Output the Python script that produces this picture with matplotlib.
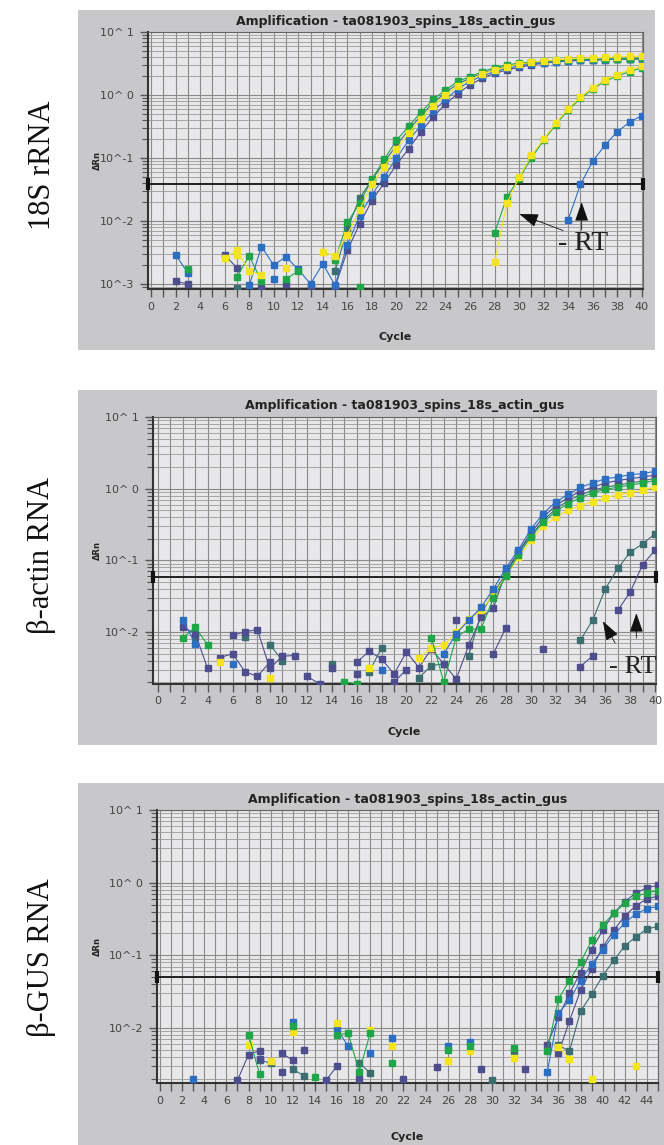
import numpy as np
import matplotlib
matplotlib.use("Agg")
import matplotlib.pyplot as plt
from matplotlib.patches import Rectangle
from matplotlib.ticker import LogLocator, NullFormatter

W, H = 664, 1145

# ---------------- data (cycle: delta Rn) ----------------
# 18S rRNA
s18_green = {3: 0.0017, 7: 0.0013, 8: 0.0028, 9: 0.0011, 11: 0.0012, 12: 0.0016,
             15: 0.0024, 16: 0.0095, 17: 0.019, 18: 0.046, 19: 0.095, 20: 0.19, 21: 0.32,
             22: 0.53, 23: 0.85, 24: 1.2, 25: 1.65, 26: 1.95, 27: 2.35, 28: 2.7, 29: 3.0,
             30: 3.2, 31: 3.35, 32: 3.45, 33: 3.55, 34: 3.6, 35: 3.7, 36: 3.7, 37: 3.7,
             38: 3.75, 39: 3.75, 40: 3.85}
s18_yellow = {6: 0.0026, 7: 0.0034, 8: 0.0016, 9: 0.0014, 11: 0.0018, 14: 0.0032,
              15: 0.0028, 16: 0.006, 17: 0.015, 18: 0.038, 19: 0.072, 20: 0.14, 21: 0.25,
              22: 0.42, 23: 0.68, 24: 1.0, 25: 1.4, 26: 1.75, 27: 2.15, 28: 2.5, 29: 2.8,
              30: 3.1, 31: 3.3, 32: 3.5, 33: 3.6, 34: 3.75, 35: 3.85, 36: 3.9, 37: 3.95,
              38: 4.0, 39: 4.1, 40: 4.1}
s18_blue = {2: 0.0029, 3: 0.0015, 8: 0.00095, 9: 0.0039, 10: 0.002, 11: 0.0027, 12: 0.0017,
            13: 0.001, 14: 0.0021, 15: 0.00095, 16: 0.0042, 17: 0.012, 18: 0.026, 19: 0.05,
            20: 0.1, 21: 0.19, 22: 0.33, 23: 0.55, 24: 0.85, 25: 1.25, 26: 1.65, 27: 2.0,
            28: 2.35, 29: 2.65, 30: 2.9, 31: 3.1, 32: 3.25, 33: 3.35, 34: 3.45, 35: 3.55,
            36: 3.6, 37: 3.65, 38: 3.7, 39: 3.7, 40: 3.75}
s18_purple = {2: 0.0011, 3: 0.001, 6: 0.0029, 7: 0.0018, 9: 0.00085, 11: 0.001, 13: 0.00085,
              15: 0.0009, 16: 0.0034, 17: 0.009, 18: 0.021, 19: 0.04, 20: 0.078, 21: 0.14,
              22: 0.26, 23: 0.45, 24: 0.72, 25: 1.05, 26: 1.45, 27: 1.85, 28: 2.2, 29: 2.5,
              30: 2.75, 31: 3.0, 32: 3.2, 33: 3.35, 34: 3.5, 35: 3.55, 36: 3.6, 37: 3.65,
              38: 3.7, 39: 3.7, 40: 3.8}
s18_teal = {7: 0.00085, 15: 0.0016, 16: 0.0075, 17: 0.023, 18: 0.045, 19: 0.085, 20: 0.16,
            21: 0.28, 22: 0.47, 23: 0.75, 24: 1.1, 25: 1.5, 26: 1.85, 27: 2.2, 28: 2.55,
            29: 2.85, 30: 3.05, 31: 3.25, 32: 3.4, 33: 3.5, 34: 3.55, 35: 3.6, 36: 3.65,
            37: 3.7, 38: 3.7, 39: 3.7, 40: 3.8}
s18_green_rt = {17: 0.0009, 28: 0.0064, 29: 0.024, 30: 0.047, 31: 0.1, 32: 0.19, 33: 0.34,
                34: 0.58, 35: 0.88, 36: 1.25, 37: 1.65, 38: 2.0, 39: 2.35, 40: 2.7}
s18_yellow_rt = {7: 0.0029, 28: 0.0022, 29: 0.019, 30: 0.049, 31: 0.11, 32: 0.2, 33: 0.36,
                 34: 0.61, 35: 0.93, 36: 1.3, 37: 1.74, 38: 2.1, 39: 2.5, 40: 2.85}
s18_blue_rt = {10: 0.0012, 34: 0.0105, 35: 0.038, 36: 0.089, 37: 0.16, 38: 0.26, 39: 0.37,
               40: 0.47}
s18_threshold = 0.039

# beta-actin RNA
act_blue = {2: 0.0145, 3: 0.0069, 6: 0.0036, 18: 0.003, 23: 0.0049, 24: 0.0095, 25: 0.0145,
            26: 0.022, 27: 0.04, 28: 0.078, 29: 0.14, 30: 0.27, 31: 0.45, 32: 0.65, 33: 0.83,
            34: 1.05, 35: 1.2, 36: 1.38, 37: 1.45, 38: 1.57, 39: 1.62, 40: 1.75}
act_purple = {2: 0.0117, 3: 0.0095, 4: 0.0031, 6: 0.009, 7: 0.0101, 8: 0.0108, 9: 0.0031,
              10: 0.0046, 11: 0.0047, 14: 0.0031, 16: 0.0038, 17: 0.0054, 18: 0.0042,
              19: 0.0026, 20: 0.0053, 21: 0.0032, 22: 0.0058, 23: 0.0036, 24: 0.0022,
              25: 0.0065, 26: 0.016, 27: 0.0217, 28: 0.07, 29: 0.13, 30: 0.24, 31: 0.4,
              32: 0.58, 33: 0.75, 34: 0.92, 35: 1.05, 36: 1.2, 37: 1.3, 38: 1.38, 39: 1.45,
              40: 1.55}
act_purple2 = {5: 0.0044, 6: 0.005, 7: 0.0028, 8: 0.0024, 9: 0.0038, 12: 0.0024, 13: 0.0019,
               16: 0.0026, 19: 0.002, 20: 0.003, 24: 0.0145, 27: 0.005, 28: 0.0115, 31: 0.0058}
act_teal = {3: 0.0086, 7: 0.0084, 9: 0.0067, 10: 0.004, 14: 0.0036, 17: 0.0028, 18: 0.006,
            21: 0.0023, 22: 0.0034, 23: 0.0036, 25: 0.0047, 26: 0.018, 27: 0.035, 28: 0.065,
            29: 0.13, 30: 0.22, 31: 0.36, 32: 0.52, 33: 0.68, 34: 0.82, 35: 0.95, 36: 1.05,
            37: 1.12, 38: 1.2, 39: 1.28, 40: 1.4}
act_green = {2: 0.0083, 3: 0.0117, 4: 0.0066, 15: 0.002, 16: 0.0019, 22: 0.0083, 23: 0.002,
             24: 0.0085, 25: 0.011, 26: 0.011, 27: 0.03, 28: 0.06, 29: 0.12, 30: 0.21,
             31: 0.34, 32: 0.48, 33: 0.62, 34: 0.75, 35: 0.88, 36: 0.98, 37: 1.05, 38: 1.12,
             39: 1.2, 40: 1.3}
act_yellow = {5: 0.0038, 9: 0.0023, 17: 0.0032, 21: 0.0044, 22: 0.006, 23: 0.0065, 24: 0.01,
              25: 0.015, 26: 0.02, 27: 0.033, 28: 0.06, 29: 0.11, 30: 0.19, 31: 0.3, 32: 0.4,
              33: 0.5, 34: 0.58, 35: 0.66, 36: 0.75, 37: 0.82, 38: 0.88, 39: 0.95, 40: 1.05}
act_teal_rt = {34: 0.0077, 35: 0.0149, 36: 0.04, 37: 0.077, 38: 0.13, 39: 0.17, 40: 0.235}
act_purple_rt = {34: 0.0033, 35: 0.0047, 37: 0.02, 38: 0.036, 39: 0.087, 40: 0.138}
act_threshold = 0.058

# beta-GUS RNA
gus_green = {8: 0.0081, 9: 0.0023, 12: 0.0105, 14: 0.0021, 16: 0.0081, 17: 0.0085, 18: 0.0025,
             19: 0.0085, 21: 0.0033, 26: 0.005, 28: 0.0057, 32: 0.0053, 35: 0.0049, 36: 0.025,
             37: 0.045, 38: 0.08, 39: 0.16, 40: 0.26, 41: 0.38, 42: 0.52, 43: 0.65, 44: 0.72,
             45: 0.78}
gus_blue = {3: 0.002, 12: 0.012, 16: 0.0097, 17: 0.0056, 19: 0.0045, 21: 0.0073, 26: 0.0056,
            28: 0.0065, 35: 0.0025, 36: 0.016, 37: 0.024, 38: 0.045, 39: 0.075, 40: 0.12,
            41: 0.19, 42: 0.28, 43: 0.37, 44: 0.44, 45: 0.47}
gus_yellow = {8: 0.0059, 10: 0.0035, 12: 0.0087, 16: 0.0117, 19: 0.0095, 21: 0.0057,
              26: 0.0035, 28: 0.0048, 32: 0.0039, 36: 0.0055, 37: 0.0038, 39: 0.002, 43: 0.003}
gus_purple = {7: 0.0019, 8: 0.0043, 9: 0.0049, 11: 0.0045, 12: 0.0036, 15: 0.0019, 16: 0.003,
              25: 0.0029, 29: 0.0027, 33: 0.0027, 35: 0.0059, 36: 0.014, 37: 0.03, 38: 0.058,
              39: 0.12, 40: 0.22, 41: 0.38, 42: 0.55, 43: 0.72, 44: 0.85, 45: 0.92}
gus_purple2 = {9: 0.0038, 11: 0.0025, 13: 0.005, 18: 0.002, 22: 0.002, 36: 0.0045,
               37: 0.0125, 38: 0.033, 39: 0.065, 40: 0.13, 41: 0.22, 42: 0.35, 43: 0.48,
               44: 0.6, 45: 0.65}
gus_teal = {9: 0.0036, 10: 0.0033, 12: 0.0027, 13: 0.0022, 18: 0.0033, 19: 0.0024, 30: 0.0019,
            32: 0.0048, 36: 0.0058, 37: 0.0048, 38: 0.017, 39: 0.029, 40: 0.052, 41: 0.085,
            42: 0.135, 43: 0.18, 44: 0.23, 45: 0.25}
gus_threshold = 0.051

# colours
YELLOW = '#f3e41e'
GREEN = '#1fa648'
BLUE = '#2c6fc2'
PURPLE = '#4e4d8e'
TEAL = '#3c6e70'

TITLE = 'Amplification - ta081903_spins_18s_actin_gus'
YLAB = {1: '10^ 1', 0: '10^ 0', -1: '10^-1', -2: '10^-2', -3: '10^-3'}


def fig_rect(x0, y0, x1, y1):
    # pixel box (top-left origin) -> figure fraction rect
    return [x0 / W, 1 - y1 / H, (x1 - x0) / W, (y1 - y0) / H]


def series_array(d, n):
    y = np.full(n, np.nan)
    for k, v in d.items():
        y[k - 1] = v
    return np.arange(1, n + 1), y


def draw_panel(fig, gray, box, xlim, ylim, ncyc, series, thr, title_y, cycle_y, label, label_y):
    gx0, gy0, gx1, gy1 = gray
    fig.patches.append(Rectangle((gx0 / W, 1 - gy1 / H), (gx1 - gx0) / W, (gy1 - gy0) / H,
                                 transform=fig.transFigure, facecolor='#c8c8ca',
                                 edgecolor='none', zorder=-10))
    ax = fig.add_axes(fig_rect(*box))
    ax.set_facecolor('#e8e8ea')
    ax.set_yscale('log')
    ax.set_xlim(*xlim)
    ax.set_ylim(*ylim)

    xmax = int(np.floor(xlim[1]))
    ax.set_xticks(range(0, xmax + 1))
    ax.set_xticklabels([str(c) if c % 2 == 0 else '' for c in range(0, xmax + 1)])
    decs = [d for d in range(-3, 2) if ylim[0] <= 10.0 ** d <= ylim[1] * 1.01]
    ax.set_yticks([10.0 ** d for d in decs])
    ax.set_yticklabels([YLAB[d] for d in decs])
    ax.yaxis.set_minor_locator(LogLocator(base=10, subs=np.arange(2, 10)))
    ax.yaxis.set_minor_formatter(NullFormatter())
    ax.tick_params(axis='x', direction='out', length=6, width=1.0, color='#555555',
                   labelsize=8, labelcolor='#444444', pad=3)
    ax.tick_params(axis='y', which='major', direction='out', length=6, width=1.0,
                   color='#555555', labelsize=8, labelcolor='#444444', pad=4)
    ax.tick_params(axis='y', which='minor', direction='out', length=4, width=0.8,
                   color='#555555')
    ax.grid(True, which='major', color='#8a8a8a', lw=0.8)
    ax.grid(True, which='minor', axis='y', color='#9a9a9a', lw=0.6)
    ax.set_axisbelow(True)
    for side in ['top', 'right']:
        ax.spines[side].set_color('#666666')
        ax.spines[side].set_linewidth(0.8)
    for side in ['left', 'bottom']:
        ax.spines[side].set_color('#333333')
        ax.spines[side].set_linewidth(1.5)

    # threshold with drag handles
    ax.axhline(thr, color='#222222', lw=1.4, zorder=3)
    ax.plot([xlim[0], xlim[1]], [thr, thr], ls='none', marker='|', ms=9, mew=3,
            color='#111111', clip_on=False, zorder=4)

    for d, col in series:
        x, y = series_array(d, ncyc)
        ax.plot(x, y, '-s', color=col, lw=0.8, ms=4.3, mec=col, zorder=5, clip_on=True)

    cx = (box[0] + box[2]) / 2
    fig.text(cx / W, 1 - title_y / H, TITLE, ha='center', va='center', fontsize=9,
             fontweight='bold', color='#222222')
    fig.text(cx / W, 1 - cycle_y / H, 'Cycle', ha='center', va='center', fontsize=8,
             fontweight='bold', color='#222222')
    fig.text(97 / W, 1 - ((box[1] + box[3]) / 2) / H, '\u0394Rn', ha='center', va='center',
             rotation=90, fontsize=6, fontweight='bold', color='#222222')
    fig.text(42 / W, 1 - label_y / H, label, ha='center', va='center', rotation=90,
             fontsize=22, family='Liberation Serif', color='#111111')
    return ax


def arrow(ax, tip, tail):
    ax.annotate('', xy=tip, xytext=tail,
                arrowprops=dict(arrowstyle='-|>,head_length=0.8,head_width=0.28',
                                color='#111111', lw=0.6, mutation_scale=15), zorder=6)


fig = plt.figure(figsize=(W / 100, H / 100), dpi=100)

ax1 = draw_panel(fig, (78, 10, 655, 350), (148, 32, 643, 289), (-0.25, 40.1),
                 (10 ** -3.08, 10), 40,
                 [(s18_teal, TEAL), (s18_purple, PURPLE), (s18_blue, BLUE),
                  (s18_green, GREEN), (s18_yellow, YELLOW), (s18_green_rt, GREEN),
                  (s18_yellow_rt, YELLOW), (s18_blue_rt, BLUE)],
                 s18_threshold, 22, 337, '18S rRNA', 165)
arrow(ax1, (29.8, 0.0134), (33.8, 0.0068))
arrow(ax1, (35.1, 0.022), (35.1, 0.0065))
ax1.text(35.2, 0.0044, '- RT', ha='center', va='center', fontsize=20,
         family='Liberation Serif', color='#222222', zorder=7)

ax2 = draw_panel(fig, (78, 390, 657, 745), (153, 417, 656, 684), (-0.4, 40.08),
                 (10 ** -2.725, 10), 40,
                 [(act_purple2, PURPLE), (act_teal, TEAL), (act_purple, PURPLE),
                  (act_yellow, YELLOW), (act_green, GREEN), (act_blue, BLUE),
                  (act_teal_rt, TEAL), (act_purple_rt, PURPLE)],
                 act_threshold, 405, 732, '\u03b2-actin RNA', 555)
arrow(ax2, (35.7, 0.0153), (36.9, 0.0065))
arrow(ax2, (38.5, 0.02), (38.5, 0.0075))
ax2.text(38.2, 0.0033, '- RT', ha='center', va='center', fontsize=19,
         family='Liberation Serif', color='#222222', zorder=7)

ax3 = draw_panel(fig, (78, 783, 664, 1145), (157, 810, 658, 1083), (-0.27, 45.0),
                 (10 ** -2.757, 10), 45,
                 [(gus_teal, TEAL), (gus_purple2, PURPLE), (gus_purple, PURPLE),
                  (gus_blue, BLUE), (gus_yellow, YELLOW), (gus_green, GREEN)],
                 gus_threshold, 799, 1137, '\u03b2-GUS RNA', 958)

fig.savefig('out.png', dpi=100)
